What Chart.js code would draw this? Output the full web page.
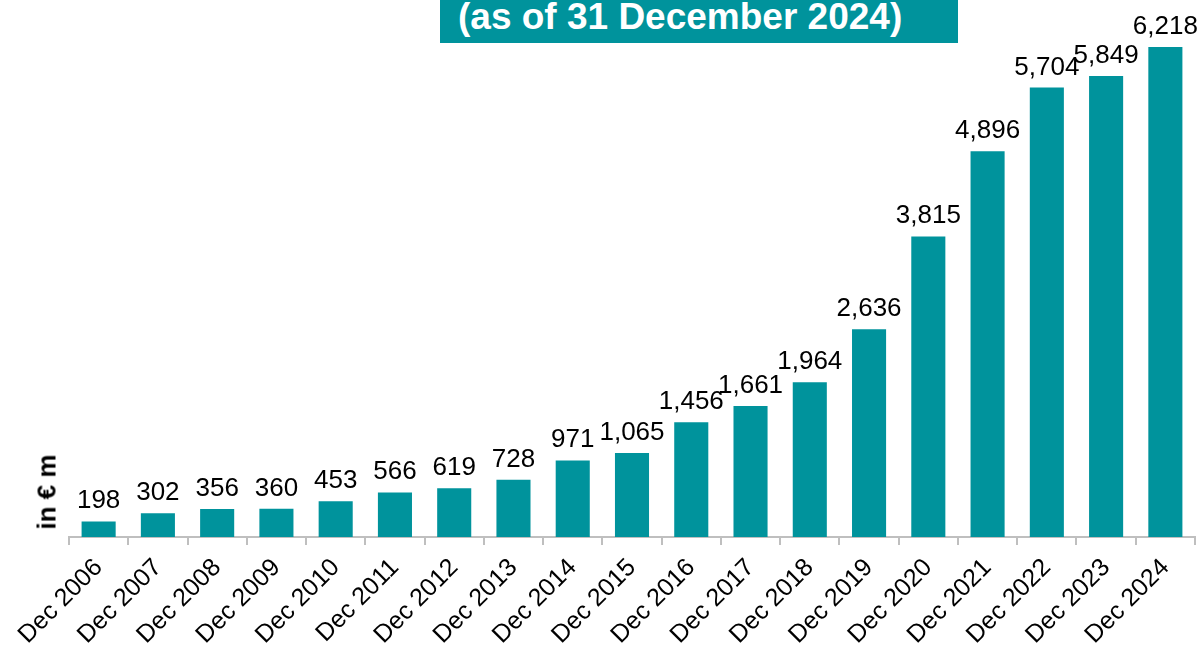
<!DOCTYPE html>
<html>
<head>
<meta charset="utf-8">
<script src="https://cdn.jsdelivr.net/npm/chart.js@4"></script>
<style>
  html, body { margin: 0; padding: 0; background: #fff; }
  #wrap { position: relative; width: 1198px; height: 649px; overflow: hidden; }
  #title {
    position: absolute; left: 440px; top: -6px; width: 518px; height: 49px;
    background: #00939c; color: #fff;
    font: bold 37px "Liberation Sans", Arial, sans-serif;
    line-height: 46px; padding-left: 18px; box-sizing: border-box; white-space: nowrap;
  }
  #unit {
    position: absolute; left: 47px; top: 492px;
    transform: translate(-50%, -50%) rotate(-90deg);
    font: bold 26px "Liberation Sans", Arial, sans-serif; color: #000; white-space: nowrap;
  }
</style>
</head>
<body>
<div id="wrap">
  <canvas id="chart" width="1198" height="649"></canvas>
  <div id="title">(as of 31 December 2024)</div>
  <div id="unit">in € m</div>
</div>
<script>
var years = ['Dec 2006', 'Dec 2007', 'Dec 2008', 'Dec 2009', 'Dec 2010', 'Dec 2011', 'Dec 2012',
             'Dec 2013', 'Dec 2014', 'Dec 2015', 'Dec 2016', 'Dec 2017', 'Dec 2018', 'Dec 2019',
             'Dec 2020', 'Dec 2021', 'Dec 2022', 'Dec 2023', 'Dec 2024'];
var values = [198, 302, 356, 360, 453, 566, 619, 728, 971, 1065, 1456, 1661, 1964, 2636,
              3815, 4896, 5704, 5849, 6218];

var barColor = '#00939c';

// value labels above each bar
var valueLabels = {
    id: 'valueLabels',
    afterDatasetsDraw: function(chart) {
        var ctx = chart.ctx;
        var meta = chart.getDatasetMeta(0);
        ctx.save();
        ctx.font = '26px "Liberation Sans", Arial, sans-serif';
        ctx.fillStyle = '#000';
        ctx.textAlign = 'center';
        ctx.textBaseline = 'alphabetic';
        meta.data.forEach(function(bar, i) {
            ctx.fillText(values[i].toLocaleString('en-US'), bar.x, bar.y - 13);
        });
        ctx.restore();
    }
};

Chart.defaults.font.family = '"Liberation Sans", Arial, sans-serif';

new Chart(document.getElementById('chart'), {
    type: 'bar',
    data: {
        labels: years,
        datasets: [{
            data: values,
            backgroundColor: barColor,
            barPercentage: 0.575,
            categoryPercentage: 1
        }]
    },
    options: {
        responsive: false,
        animation: false,
        layout: { padding: { left: 69, right: 3, top: 0, bottom: 0 } },
        plugins: { legend: { display: false }, tooltip: { enabled: false } },
        scales: {
            y: { display: false, min: 0, max: 6815 },
            x: {
                border: { display: true, color: '#bfbfbf', width: 2 },
                grid: { display: true, drawOnChartArea: false, drawTicks: true, tickLength: 8,
                        color: '#bfbfbf', lineWidth: 2, offset: true },
                ticks: { color: '#000', font: { size: 25 }, minRotation: 45, maxRotation: 45, padding: 8 },
                afterFit: function(scale) { scale.height = 112; }
            }
        }
    },
    plugins: [valueLabels]
});
</script>
</body>
</html>
